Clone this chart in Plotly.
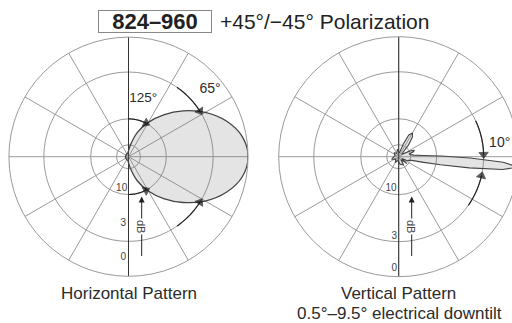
import numpy as np
import plotly.graph_objects as go

# ---------------- data ----------------
RING_DB = [-20, -10, -3, 0]
RING_LABELS = ["10", "3", "0"]           # labels of the -10, -3, 0 dB rings

# Horizontal pattern (azimuth, deg CCW from boresight) -> relative level in dB
H_ANGLE = [0, 10, 20, 30, 40, 50, 60, 70, 80, 90, 100, 120, 140, 160, 180,
           200, 220, 240, 260, 270, 280, 290, 300, 310, 320, 330, 340, 350, 360]
H_DB = [0, -0.3, -1.2, -2.6, -4.5, -6.8, -9.6, -13.4, -19.6, -26, -30, -31, -32, -32, -32,
        -32, -32, -31, -30, -26, -19.6, -13.4, -9.6, -6.8, -4.5, -2.6, -1.2, -0.3, 0]
H_BEAMWIDTH = [65, 125]                   # -3 dB and -10 dB beamwidths

# Vertical pattern (elevation, deg; negative = below horizon) -> level in dB
V_ANGLE = [-180, -160, -140, -120, -100, -80, -60, -50, -40, -30, -25, -20, -16, -13, -11,
           -9, -7, -5, -3, -1, 1, 3, 6, 10, 14, 18, 22, 26, 30, 40, 50, 55, 60, 65, 70, 80,
           100, 120, 140, 160, 180]
V_DB = [-28, -24, -30, -25, -30, -24, -22, -30, -21, -30, -22, -21, -19, -14, -9,
        -4.5, -1.2, 0, -1.2, -4.5, -9, -14, -18, -20, -21, -18, -17, -19, -24, -30, -18, -14, -12.8, -14, -19, -30,
        -24, -30, -26, -30, -28]
V_ARROWS = [1.5, -13]                     # where the 10° marks meet the -3 dB ring

TITLE_BOX = "824–960"
TITLE_REST = "+45°/−45° Polarization"
H_TITLE = "Horizontal Pattern"
V_TITLE = ["Vertical Pattern", "0.5°–9.5° electrical downtilt"]

# ---------------- helpers ----------------
def amp(db):
    return 10 ** (np.asarray(db, dtype=float) / 20.0)

W, H = 522, 323
FONT = "Liberation Sans, Arial, sans-serif"
TXT = "#2b2b2b"
GRID = "#9a9a9a"

fig = go.Figure()

def polar_layout(cx, cy, rad):
    return dict(
        domain=dict(x=[(cx - rad) / W, (cx + rad) / W],
                    y=[1 - (cy + rad) / H, 1 - (cy - rad) / H]),
        bgcolor="rgba(0,0,0,0)",
        angularaxis=dict(rotation=0, direction="counterclockwise", dtick=30,
                         showticklabels=False, ticks="", showline=True,
                         linecolor=GRID, linewidth=1, gridcolor=GRID, gridwidth=1),
        radialaxis=dict(range=[0, 1], tickvals=list(amp(RING_DB[:-1])),
                        showticklabels=False, ticks="", showline=False,
                        gridcolor=GRID, gridwidth=1),
    )

def add_axis_line(sub):
    fig.add_trace(go.Scatterpolar(r=[1, 0, 1], theta=[90, 90, 270], mode="lines",
                                  line=dict(color="#333", width=1), subplot=sub,
                                  hoverinfo="skip", showlegend=False))

def add_arc(sub, r, t0, t1):
    th = np.linspace(t0, t1, 30)
    sizes = [0] * (len(th) - 1) + [8]
    fig.add_trace(go.Scatterpolar(
        r=[r] * len(th), theta=th, mode="lines+markers", subplot=sub,
        line=dict(color="#222", width=1.2),
        marker=dict(symbol="triangle-up", size=sizes, color="#111",
                    angleref="previous"),
        hoverinfo="skip", showlegend=False))

def add_text(sub, r, th, text, size, color=TXT):
    fig.add_trace(go.Scatterpolar(r=[r], theta=[th], mode="text", text=[text],
                                  textfont=dict(family=FONT, size=size, color=color),
                                  subplot=sub, hoverinfo="skip", showlegend=False))

# ---------------- horizontal pattern ----------------
add_axis_line("polar")
fig.add_trace(go.Scatterpolar(
    r=amp(H_DB), theta=H_ANGLE, mode="lines", fill="toself",
    fillcolor="rgba(120,120,120,0.2)", line=dict(color="#444", width=1.3, shape="spline"),
    subplot="polar", hoverinfo="skip", showlegend=False))
r3, r10 = amp(-3), amp(-10)
add_arc("polar", r3, 55, H_BEAMWIDTH[0] / 2)
add_arc("polar", r3, -55, -H_BEAMWIDTH[0] / 2)
add_arc("polar", r10, 90, H_BEAMWIDTH[1] / 2)
add_arc("polar", r10, -90, -H_BEAMWIDTH[1] / 2)
add_text("polar", 0.503, 75.8, f"{H_BEAMWIDTH[1]}°", 13.5)
add_text("polar", 0.881, 39.3, f"{H_BEAMWIDTH[0]}°", 14)
for rr, tt, lab in zip([0.276, 0.559, 0.843], [258.1, 265.5, 267], RING_LABELS):
    add_text("polar", rr, tt, lab, 10, "#444")

# ---------------- vertical pattern ----------------
add_axis_line("polar2")
fig.add_trace(go.Scatterpolar(
    r=amp(V_DB), theta=V_ANGLE, mode="lines", fill="toself",
    fillcolor="rgba(120,120,120,0.2)", line=dict(color="#444", width=1.1),
    subplot="polar2", hoverinfo="skip", showlegend=False))
add_arc("polar2", r3, 25, V_ARROWS[0])
add_arc("polar2", r3, -35, V_ARROWS[1])
add_text("polar2", 0.849, 7.6, "10°", 14)
for rr, tt, lab in zip([0.271, 0.668, 0.931], [256.3, 266.9, 267.7], RING_LABELS):
    add_text("polar2", rr, tt, lab, 10, "#444")

# ---------------- annotations ----------------
def px(x):
    return x / W

def py(y):
    return 1 - y / H

ann = []
ann.append(dict(x=px(155), y=py(21.5), xref="paper", yref="paper", text=f"<b>{TITLE_BOX}</b>",
                showarrow=False, font=dict(family=FONT, size=22, color="#222"),
                bordercolor="#888", borderwidth=1, borderpad=0, width=112, height=21,
                xanchor="center", yanchor="middle"))
ann.append(dict(x=px(218), y=py(21.5), xref="paper", yref="paper", text=TITLE_REST,
                showarrow=False, font=dict(family=FONT, size=21, color="#222"),
                xanchor="left", yanchor="middle"))
ann.append(dict(x=px(128.5), y=py(293), xref="paper", yref="paper", text=H_TITLE,
                showarrow=False, font=dict(family=FONT, size=17, color=TXT),
                xanchor="center", yanchor="middle"))
ann.append(dict(x=px(398), y=py(293), xref="paper", yref="paper", text=V_TITLE[0],
                showarrow=False, font=dict(family=FONT, size=17, color=TXT),
                xanchor="center", yanchor="middle"))
ann.append(dict(x=px(399.3), y=py(313.3), xref="paper", yref="paper", text=V_TITLE[1],
                showarrow=False, font=dict(family=FONT, size=17, color=TXT),
                xanchor="center", yanchor="middle"))
for ax_x in (141.7, 411.7):
    ann.append(dict(x=px(ax_x), y=py(196.5), xref="paper", yref="paper", text="",
                    showarrow=True, arrowhead=2, arrowsize=1.2, arrowwidth=1,
                    arrowcolor="#222", ax=0, ay=61))
    ann.append(dict(x=px(ax_x), y=py(226.7), xref="paper", yref="paper", text="dB",
                    showarrow=False, textangle=90, bgcolor="white",
                    font=dict(family=FONT, size=11, color="#444"),
                    xanchor="center", yanchor="middle"))

fig.update_layout(
    width=W, height=H, margin=dict(l=0, r=0, t=0, b=0),
    paper_bgcolor="white", plot_bgcolor="white", showlegend=False,
    polar=polar_layout(128.5, 156.7, 119.6),
    polar2=polar_layout(398.7, 156.7, 120),
    annotations=ann,
)

fig.write_html("out.html", config={"displayModeBar": False},
               post_script="document.body.style.margin='0';document.body.style.overflow='hidden';")
